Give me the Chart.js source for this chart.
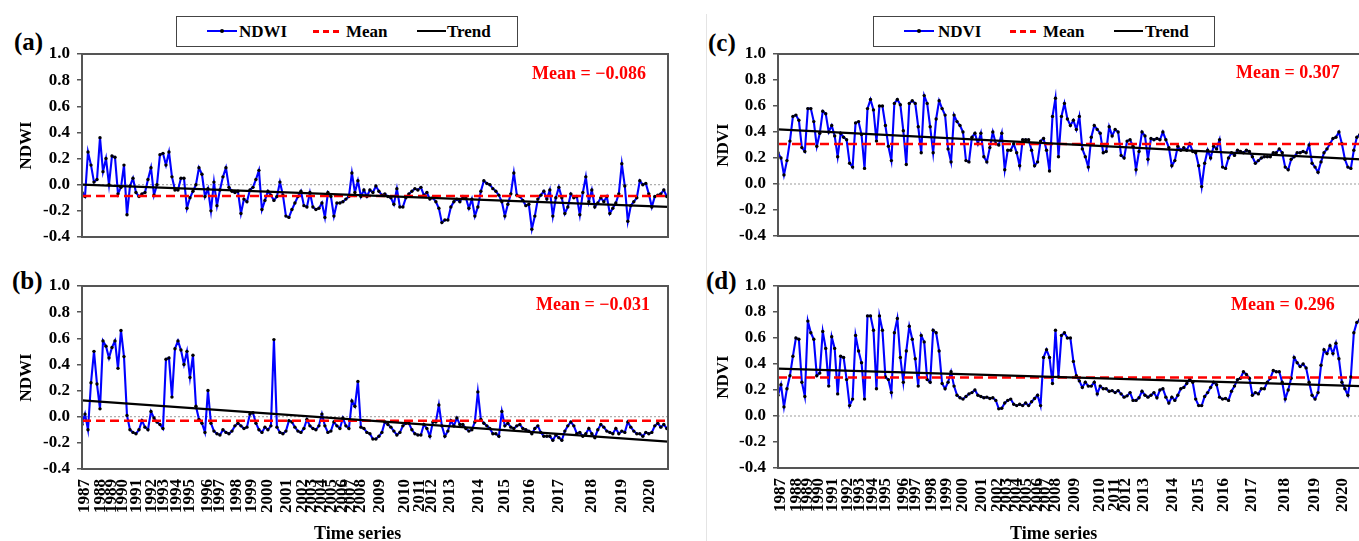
<!DOCTYPE html>
<html lang="en">
<head>
<meta charset="UTF-8">
<title>NDWI and NDVI time series</title>
<script src="https://cdn.jsdelivr.net/npm/chart.js"></script>
<style>
    html, body { margin: 0; padding: 0; background: #fff; }
    body {
        width: 1359px; height: 541px; overflow: hidden; position: relative;
        font-family: "Liberation Serif", "Times New Roman", serif; font-weight: bold;
    }
    canvas { position: absolute; }
    .lbl { position: absolute; line-height: 1; white-space: nowrap; color: #000; }
    .panel { font-size: 25px; }
    .mean { font-size: 18px; color: #ff0000; }
    .axis-title { font-size: 18px; }
    .legend {
        position: absolute; top: 16px; width: 342px; height: 31px;
        border: 1.5px solid #444; box-sizing: border-box; font-size: 17px;
    }
    .legend .t { position: absolute; top: 6px; line-height: 1; }
    .legend .blue { position: absolute; left: 30px; top: 13px; width: 30px; height: 2px; background: #0000ff; }
    .legend .blue i { position: absolute; left: 13px; top: -1px; width: 4px; height: 4px; border-radius: 2px; background: #000; }
    .legend .red { position: absolute; left: 136px; top: 13px; width: 26px; height: 3px;
        background: repeating-linear-gradient(to right, #ff0000 0 6px, transparent 6px 10px); }
    .legend .black { position: absolute; left: 240px; top: 13px; width: 29px; height: 2px; background: #000; }
    .sep { position: absolute; left: 706px; top: 14px; width: 1px; height: 527px; background: #e4e4e4; }
</style>
</head>
<body>

<div class="sep"></div>

<div class="legend" style="left:176px">
    <div class="blue"><i></i></div><span class="t" style="left:62px">NDWI</span>
    <div class="red"></div><span class="t" style="left:169px">Mean</span>
    <div class="black"></div><span class="t" style="left:270px">Trend</span>
</div>
<div class="legend" style="left:873px">
    <div class="blue"><i></i></div><span class="t" style="left:64px">NDVI</span>
    <div class="red"></div><span class="t" style="left:169px">Mean</span>
    <div class="black"></div><span class="t" style="left:271px">Trend</span>
</div>

<div class="lbl panel" style="left:14px; top:29px">(a)</div>
<div class="lbl panel" style="left:12px; top:268px">(b)</div>
<div class="lbl panel" style="left:708px; top:30px">(c)</div>
<div class="lbl panel" style="left:706px; top:268px">(d)</div>

<canvas id="chartA" width="680" height="250" style="left:0; top:0"></canvas>
<canvas id="chartB" width="680" height="279" style="left:0; top:262px"></canvas>
<canvas id="chartC" width="665" height="250" style="left:700px; top:0"></canvas>
<canvas id="chartD" width="665" height="279" style="left:700px; top:262px"></canvas>

<div class="lbl mean" style="left:532px; top:64px">Mean = &minus;0.086</div>
<div class="lbl mean" style="left:536px; top:295px">Mean = &minus;0.031</div>
<div class="lbl mean" style="left:1236px; top:63px">Mean = 0.307</div>
<div class="lbl mean" style="left:1231px; top:295px">Mean = 0.296</div>

<div class="lbl axis-title" style="left:314px; top:524px">Time series</div>
<div class="lbl axis-title" style="left:1010px; top:524px">Time series</div>

<script>
    // year labels and the observation index where each year starts
    const years = ['1987','1988','1989','1990','1991','1992','1993','1994','1995','1996',
        '1997','1998','1999','2000','2001','2002','2003','2004','2005','2006','2007','2008',
        '2009','2010','2011','2012','2013','2014','2015','2016','2017','2018','2019','2020'];
    const yearStart = [1, 6.3, 9.9, 13.6, 18.3, 23.2, 27.3, 31.6, 36, 42,
        46, 51.6, 56.6, 61.9, 68.2, 73.7, 76.7, 79.9, 83.2, 87, 89.7, 93,
        99.3, 107.7, 112.7, 116.6, 122.7, 132.1, 141, 149.3, 158.8, 169.9, 179.9, 189.3];

    // (a) NDWI
    const ndwiA = [
        -0.06,-0.09,0.25,0.15,0.02,0.04,0.36,0.10,0.20,0.00,
        0.22,0.21,-0.07,-0.02,0.15,-0.23,-0.01,0.05,-0.06,-0.09,
        -0.07,-0.06,0.04,0.13,-0.08,0.00,0.23,0.24,0.15,0.25,
        0.06,-0.04,-0.04,0.05,0.05,-0.18,-0.10,-0.05,0.00,0.13,
        0.08,-0.09,-0.03,-0.20,0.02,-0.16,-0.04,0.06,0.13,-0.02,
        -0.05,-0.06,-0.05,-0.22,-0.11,-0.13,-0.04,-0.02,0.04,0.11,
        -0.19,-0.12,-0.05,-0.08,-0.12,-0.09,0.02,-0.08,-0.24,-0.25,
        -0.19,-0.14,-0.09,-0.05,-0.16,-0.17,-0.06,-0.17,-0.19,-0.18,
        -0.14,-0.25,-0.06,-0.09,-0.24,-0.14,-0.14,-0.13,-0.11,-0.09,
        0.09,-0.06,0.03,-0.09,-0.04,-0.09,-0.04,-0.06,-0.01,-0.05,
        -0.08,-0.07,-0.09,-0.10,-0.15,-0.03,-0.17,-0.17,-0.10,-0.07,
        -0.05,-0.03,-0.04,-0.02,-0.08,-0.06,-0.11,-0.10,-0.13,-0.18,
        -0.29,-0.27,-0.27,-0.17,-0.13,-0.11,-0.13,-0.09,-0.10,-0.18,
        -0.11,-0.24,-0.17,-0.05,0.03,0.01,0.00,-0.03,-0.05,-0.08,
        -0.13,-0.24,-0.15,-0.07,0.09,-0.08,-0.09,-0.12,-0.16,-0.15,
        -0.34,-0.24,-0.11,-0.08,-0.05,-0.11,-0.04,-0.24,-0.10,-0.02,
        -0.10,-0.22,-0.17,-0.07,-0.10,-0.09,-0.23,-0.06,0.06,-0.13,
        -0.04,-0.17,-0.14,-0.10,-0.13,-0.09,-0.22,-0.18,-0.14,-0.07,
        0.16,-0.01,-0.28,-0.16,-0.13,-0.10,0.03,0.00,0.01,-0.07,
        -0.17,-0.09,-0.08,-0.07,-0.04,-0.09
    ];
    // (b) NDWI
    const ndwiB = [
        -0.06,0.02,-0.10,0.26,0.50,0.25,0.06,0.58,0.54,0.45,
        0.53,0.58,0.37,0.66,0.46,0.01,-0.10,-0.12,-0.13,-0.10,
        -0.03,-0.08,-0.10,0.04,-0.01,-0.04,-0.06,-0.09,0.44,0.45,
        0.15,0.52,0.58,0.51,0.40,0.50,0.30,0.47,0.08,-0.02,
        -0.05,-0.12,0.20,-0.05,-0.11,-0.13,-0.14,-0.10,-0.12,-0.13,
        -0.11,-0.07,-0.05,-0.07,-0.09,-0.08,0.02,0.03,-0.05,-0.10,
        -0.12,-0.08,-0.10,-0.07,0.59,-0.08,-0.12,-0.13,-0.11,-0.03,
        -0.04,-0.08,-0.11,-0.12,-0.09,-0.02,-0.07,-0.09,-0.10,-0.07,
        0.02,-0.07,-0.12,-0.11,-0.04,-0.07,-0.09,-0.01,-0.07,-0.09,
        0.12,0.08,0.27,-0.08,-0.09,-0.12,-0.13,-0.17,-0.17,-0.15,
        -0.12,-0.04,-0.06,-0.08,-0.11,-0.14,-0.12,-0.07,-0.05,-0.05,
        -0.10,-0.13,-0.14,-0.14,-0.06,-0.09,-0.15,-0.04,-0.04,0.09,
        -0.07,-0.15,-0.11,-0.03,-0.07,-0.01,-0.06,-0.06,-0.09,-0.11,
        -0.10,-0.04,0.19,-0.02,-0.05,-0.07,-0.09,-0.13,-0.13,-0.15,
        0.04,-0.07,-0.05,-0.08,-0.09,-0.07,-0.06,-0.09,-0.10,-0.11,
        -0.13,-0.09,-0.07,-0.12,-0.15,-0.15,-0.15,-0.18,-0.14,-0.16,
        -0.18,-0.11,-0.07,-0.04,-0.07,-0.13,-0.12,-0.15,-0.13,-0.09,
        -0.13,-0.16,-0.10,-0.06,-0.08,-0.11,-0.12,-0.13,-0.09,-0.13,
        -0.11,-0.12,-0.04,-0.08,-0.11,-0.13,-0.13,-0.15,-0.12,-0.13,
        -0.12,-0.07,-0.05,-0.08,-0.06,-0.09
    ];
    // (c) NDVI
    const ndviC = [
        0.24,0.20,0.07,0.18,0.33,0.52,0.53,0.49,0.28,0.25,
        0.58,0.58,0.48,0.29,0.39,0.56,0.54,0.40,0.45,0.37,
        0.21,0.39,0.36,0.34,0.16,0.13,0.47,0.48,0.38,0.12,
        0.58,0.65,0.57,0.33,0.60,0.60,0.45,0.29,0.18,0.62,
        0.65,0.61,0.41,0.15,0.62,0.64,0.62,0.44,0.24,0.68,
        0.62,0.44,0.24,0.50,0.64,0.58,0.53,0.27,0.17,0.53,
        0.48,0.45,0.40,0.18,0.17,0.36,0.39,0.31,0.39,0.21,
        0.17,0.28,0.40,0.31,0.30,0.39,0.11,0.26,0.26,0.31,
        0.24,0.14,0.34,0.34,0.34,0.26,0.14,0.17,0.33,0.35,
        0.26,0.10,0.52,0.66,0.21,0.52,0.62,0.50,0.45,0.49,
        0.42,0.52,0.27,0.21,0.13,0.36,0.45,0.42,0.39,0.24,
        0.25,0.44,0.37,0.42,0.40,0.22,0.20,0.33,0.34,0.29,
        0.11,0.25,0.40,0.37,0.19,0.35,0.34,0.35,0.34,0.40,
        0.34,0.28,0.14,0.18,0.29,0.26,0.28,0.26,0.31,0.25,
        0.24,0.14,-0.02,0.16,0.26,0.20,0.29,0.27,0.34,0.13,
        0.12,0.20,0.24,0.22,0.26,0.25,0.24,0.26,0.25,0.21,
        0.16,0.18,0.20,0.21,0.21,0.21,0.24,0.24,0.27,0.24,
        0.13,0.11,0.19,0.21,0.24,0.24,0.25,0.24,0.30,0.16,
        0.13,0.09,0.17,0.24,0.27,0.31,0.35,0.36,0.40,0.31,
        0.19,0.13,0.12,0.26,0.36,0.38
    ];
    // (d) NDVI
    const ndviD = [
        0.16,0.24,0.07,0.21,0.31,0.46,0.60,0.59,0.26,0.15,
        0.73,0.64,0.59,0.31,0.33,0.65,0.52,0.23,0.61,0.52,
        0.17,0.46,0.45,0.28,0.08,0.13,0.62,0.50,0.41,0.13,
        0.77,0.77,0.66,0.21,0.77,0.66,0.30,0.28,0.18,0.64,
        0.75,0.45,0.26,0.50,0.69,0.59,0.44,0.23,0.62,0.57,
        0.28,0.26,0.66,0.64,0.50,0.25,0.21,0.26,0.34,0.23,
        0.16,0.14,0.13,0.15,0.17,0.18,0.20,0.16,0.15,0.14,
        0.145,0.135,0.14,0.12,0.055,0.06,0.10,0.12,0.13,0.09,
        0.08,0.09,0.08,0.10,0.08,0.11,0.135,0.16,0.08,0.45,
        0.51,0.45,0.25,0.66,0.30,0.62,0.64,0.60,0.60,0.42,
        0.31,0.27,0.22,0.26,0.23,0.23,0.26,0.17,0.23,0.21,
        0.21,0.19,0.195,0.18,0.195,0.17,0.145,0.155,0.18,0.12,
        0.12,0.14,0.19,0.16,0.145,0.16,0.18,0.14,0.20,0.21,
        0.145,0.10,0.145,0.12,0.16,0.21,0.22,0.25,0.285,0.26,
        0.13,0.08,0.08,0.15,0.18,0.22,0.26,0.24,0.145,0.13,
        0.135,0.12,0.19,0.23,0.28,0.29,0.34,0.32,0.29,0.16,
        0.18,0.17,0.21,0.21,0.26,0.29,0.35,0.34,0.34,0.26,
        0.13,0.20,0.29,0.45,0.41,0.38,0.40,0.37,0.26,0.16,
        0.13,0.18,0.39,0.51,0.48,0.54,0.48,0.56,0.44,0.26,
        0.21,0.16,0.30,0.64,0.72,0.74
    ];

    // mean values and trend line (start, end) per panel
    const means = [-0.086, -0.031, 0.307, 0.296];
    const trendA = [0.0, -0.17];
    const trendB = [0.125, -0.19];
    const trendC = [0.42, 0.19];
    const trendD = [0.365, 0.23];

    const xMax = 195.4;
    const FONT = '"Liberation Serif", "Times New Roman", serif';

    // full frame round the plot area
    const boxPlugin = {
        id: 'plotBox',
        afterDatasetsDraw(chart) {
            const { ctx, chartArea: a } = chart;
            ctx.save();
            ctx.strokeStyle = '#555';
            ctx.lineWidth = 2;
            ctx.strokeRect(a.left, a.top, a.right - a.left, a.bottom - a.top);
            ctx.restore();
        }
    };

    function makePanel(id, series, mean, trend, yTitle, showYears, cfg) {
        const line = (y0, y1) => [{ x: 0, y: y0 }, { x: xMax, y: y1 }];
        new Chart(document.getElementById(id), {
            type: 'line',
            data: {
                datasets: [
                    { label: 'Trend', data: line(trend[0], trend[1]), borderColor: '#000', borderWidth: 2.2, pointRadius: 0 },
                    { label: 'Mean', data: line(mean, mean), borderColor: '#ff0000', borderWidth: 2.5, borderDash: [9, 5], pointRadius: 0 },
                    {
                        label: yTitle, data: series.map((v, i) => ({ x: i, y: v })),
                        borderColor: '#0000ff', borderWidth: 2.1, tension: 0,
                        pointRadius: 1.7, pointBackgroundColor: '#000', pointBorderWidth: 0
                    },
                    { label: 'zero', data: line(0, 0), borderColor: '#999', borderWidth: 1, borderDash: [2, 2], pointRadius: 0 }
                ]
            },
            options: {
                responsive: false,
                animation: false,
                devicePixelRatio: 1,
                layout: { padding: { top: cfg.top, right: cfg.right, bottom: 0, left: 0 } },
                plugins: { legend: { display: false }, tooltip: { enabled: false } },
                scales: {
                    x: {
                        type: 'linear', min: 0, max: xMax,
                        grid: { display: false, drawTicks: false },
                        border: { display: true, color: '#555', width: 2 },
                        ticks: {
                            display: showYears, autoSkip: false, minRotation: 90, maxRotation: 90,
                            padding: 10, color: '#000',
                            font: { family: FONT, size: 17, weight: 'bold' },
                            callback: (v, i) => years[i]
                        },
                        afterBuildTicks: ax => { ax.ticks = yearStart.map(v => ({ value: v })); },
                        afterFit: ax => { ax.height = cfg.xh; ax.paddingLeft = 0; ax.paddingRight = 0; }
                    },
                    y: {
                        min: -0.4, max: 1.0,
                        ticks: {
                            stepSize: 0.2, padding: 7, color: '#000',
                            font: { family: FONT, size: 17, weight: 'bold' },
                            callback: v => (Math.abs(v) < 1e-9 ? 0 : v).toFixed(1)
                        },
                        grid: { drawOnChartArea: false, drawTicks: true, tickLength: 5, color: '#555', lineWidth: 1.5 },
                        border: { color: '#555', width: 2 },
                        title: {
                            display: true, text: yTitle, color: '#000',
                            font: { family: FONT, size: 17, weight: 'bold' },
                            padding: { top: cfg.tp, bottom: 0 }
                        },
                        afterFit: ax => { ax.width = cfg.yw; ax.paddingTop = 0; ax.paddingBottom = 0; }
                    }
                }
            },
            plugins: [boxPlugin]
        });
    }

    makePanel('chartA', ndwiA, means[0], trendA, 'NDWI', false, { top: 54, right: 12, xh: 13, yw: 82, tp: 16 });
    makePanel('chartB', ndwiB, means[1], trendB, 'NDWI', true, { top: 24, right: 12, xh: 72, yw: 82, tp: 16 });
    makePanel('chartC', ndviC, means[2], trendC, 'NDVI', false, { top: 54, right: 0, xh: 14, yw: 78, tp: 13 });
    makePanel('chartD', ndviD, means[3], trendD, 'NDVI', true, { top: 24, right: 0, xh: 73, yw: 78, tp: 13 });
</script>

</body>
</html>
